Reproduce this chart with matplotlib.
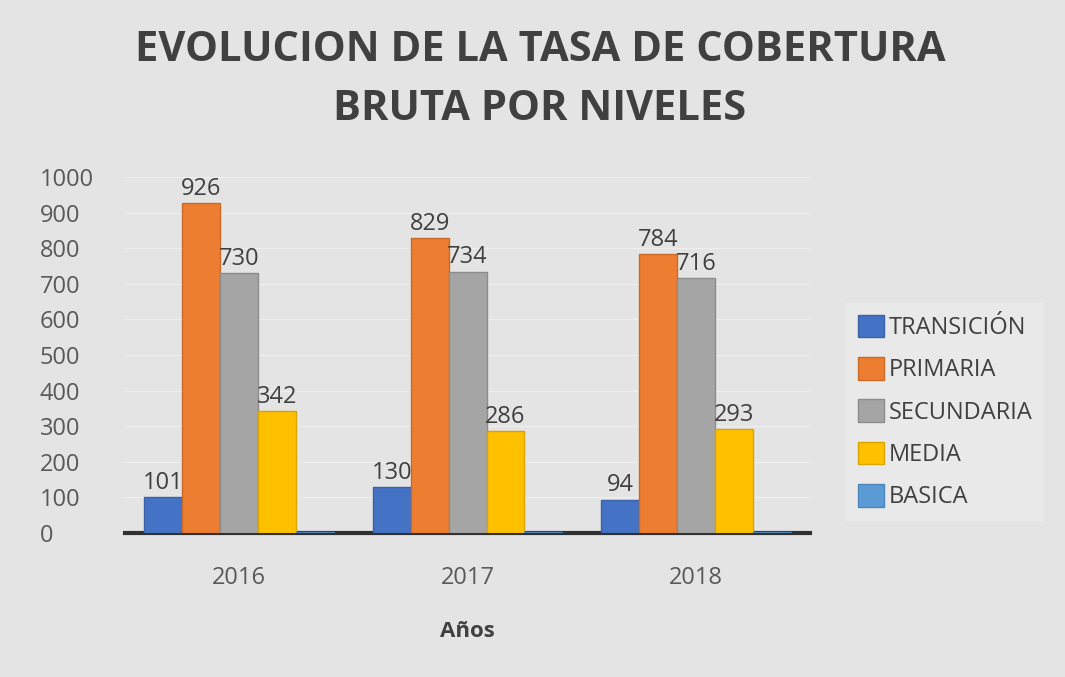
import numpy as np
import matplotlib.pyplot as plt

# Dati
anni = ['2016', '2017', '2018']
transicion = [101, 130, 94]
primaria = [926, 829, 784]
secundaria = [730, 734, 716]
media = [342, 286, 293]
basica = [4, 4, 4]

serie = ['TRANSICIÓN', 'PRIMARIA', 'SECUNDARIA', 'MEDIA', 'BASICA']
valori = [transicion, primaria, secundaria, media, basica]
colori = ['#4472c4', '#ed7d31', '#a5a5a5', '#ffc000', '#5b9bd5']
bordi = ['#3a62a8', '#c96a2a', '#8c8c8c', '#d9a300', '#4d85b8']
etichette = [True, True, True, True, False]

plt.rcParams['font.family'] = ['Open Sans', 'DejaVu Sans']

fig = plt.figure(figsize=(10.65, 6.77), dpi=100)
fig.patch.set_facecolor('#e4e4e4')
ax = fig.add_axes([0.117, 0.2127, 0.644, 0.526])
ax.set_facecolor('#e4e4e4')

x = np.arange(len(anni))
w = 0.166
for i, (nome, v) in enumerate(zip(serie, valori)):
    pos = x + (i - 2) * w
    bars = ax.bar(pos, v, w, color=colori[i], edgecolor=bordi[i], linewidth=1, label=nome, zorder=3)
    if etichette[i]:
        for b, val in zip(bars, v):
            ax.text(b.get_x() + b.get_width() / 2, val + 6, str(val), ha='center', va='bottom',
                    fontsize=17, color='#404040', zorder=4)

ax.set_xlim(-0.5, 2.5)
ax.set_ylim(0, 1000)
ax.set_yticks(range(0, 1001, 100))
ax.set_xticks(x)
ax.set_xticklabels(anni)
ax.tick_params(axis='both', length=0, labelsize=17, labelcolor='#595959')
ax.tick_params(axis='x', pad=24)
ax.tick_params(axis='y', pad=61)
for lab in ax.get_yticklabels():
    lab.set_horizontalalignment('left')
ax.grid(axis='y', color='#eeeeee', linewidth=1, zorder=0)
for s in ['top', 'right', 'left']:
    ax.spines[s].set_visible(False)
ax.spines['bottom'].set_color('#303030')
ax.spines['bottom'].set_linewidth(3)
ax.spines['bottom'].set_zorder(2)

ax.set_xlabel('Años', fontsize=16, fontweight='bold', color='#404040', labelpad=22)

fig.text(0.507, 0.925, 'EVOLUCION DE LA TASA DE COBERTURA', ha='center', va='center',
         fontsize=30, fontweight='bold', color='#404040')
fig.text(0.507, 0.838, 'BRUTA POR NIVELES', ha='center', va='center',
         fontsize=30, fontweight='bold', color='#404040')

leg = ax.legend(loc='center left', bbox_to_anchor=(1.035, 0.34), frameon=True, fontsize=17,
                handlelength=1.1, handleheight=1.1, handletextpad=0.2, labelspacing=0.72,
                borderpad=0.5, fancybox=False, labelcolor='#404040')
leg.get_frame().set_facecolor('#ebebeb')
leg.get_frame().set_edgecolor('none')

fig.savefig('out.png', dpi=100, facecolor=fig.get_facecolor())
